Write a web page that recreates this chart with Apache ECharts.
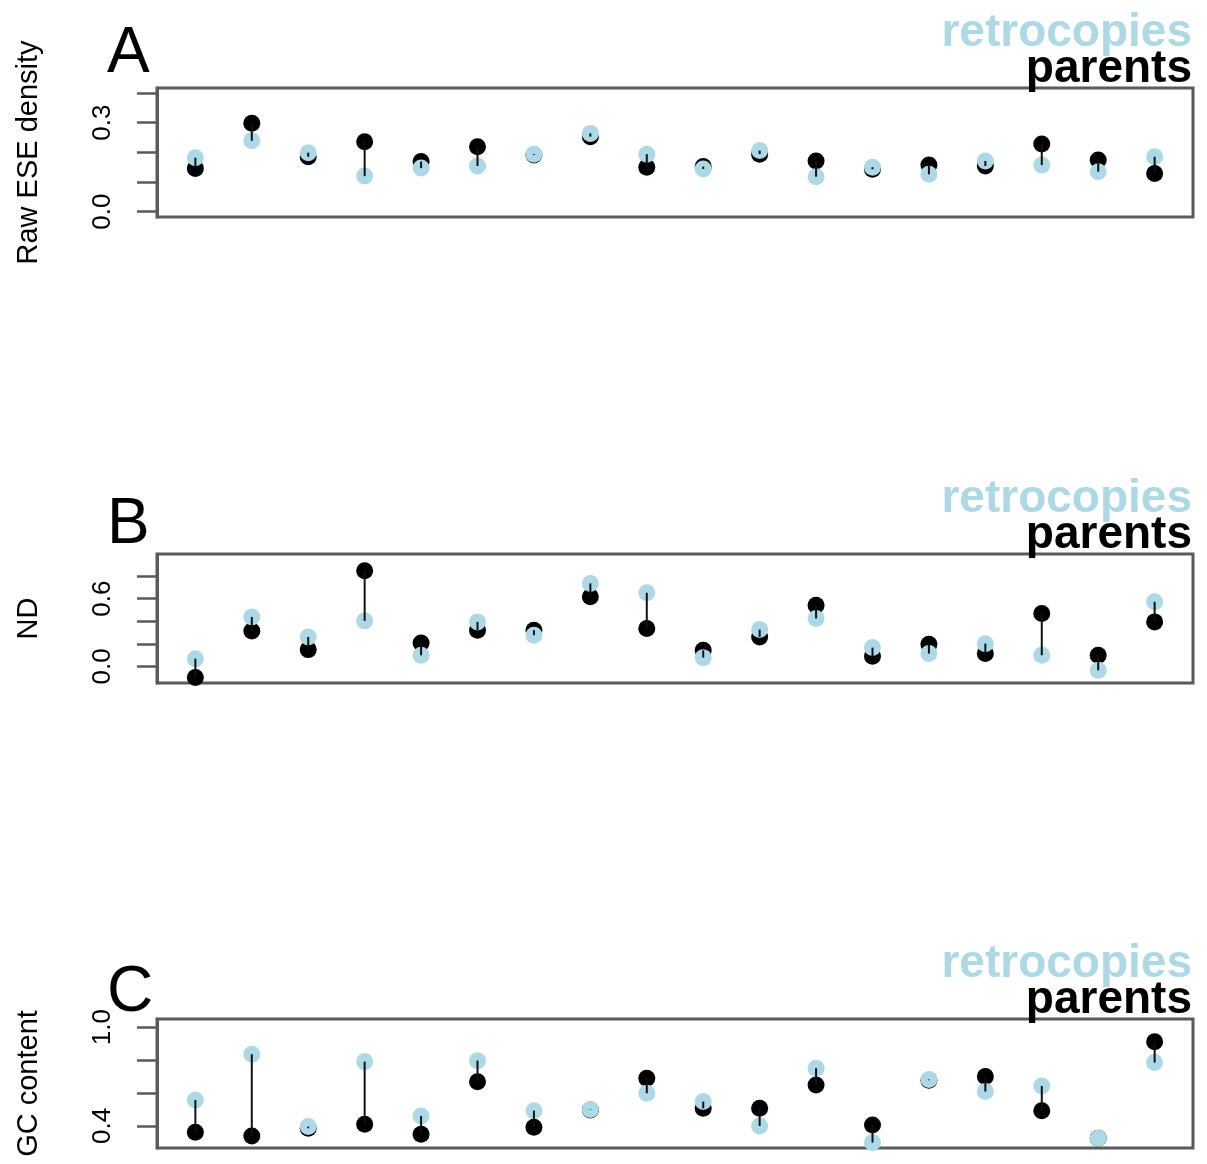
<!DOCTYPE html>
<html>
<head>
<meta charset="utf-8">
<script src="https://cdn.jsdelivr.net/npm/echarts@6/dist/echarts.min.js"></script>
<style>
  html, body { margin: 0; padding: 0; background: #fff; }
  #chart { width: 1207px; height: 1164px; }
</style>
</head>
<body>
<div id="chart"></div>
<script>
// 18 gene pairs, plotted left to right
const positions = [1, 2, 3, 4, 5, 6, 7, 8, 9, 10, 11, 12, 13, 14, 15, 16, 17, 18];

// A: raw ESE density
const eseRetro  = [0.182, 0.239, 0.199, 0.120, 0.147, 0.154, 0.194, 0.264, 0.194, 0.144, 0.206, 0.118, 0.150, 0.126, 0.171, 0.157, 0.135, 0.185];
const eseParent = [0.146, 0.298, 0.185, 0.236, 0.169, 0.219, 0.191, 0.253, 0.150, 0.152, 0.194, 0.171, 0.143, 0.157, 0.154, 0.228, 0.174, 0.129];

// B: ND
const ndRetro  = [0.068, 0.438, 0.260, 0.403, 0.098, 0.394, 0.276, 0.735, 0.652, 0.077, 0.326, 0.424, 0.166, 0.113, 0.201, 0.098, -0.036, 0.572];
const ndParent = [-0.100, 0.314, 0.148, 0.847, 0.207, 0.320, 0.320, 0.616, 0.335, 0.142, 0.260, 0.542, 0.089, 0.196, 0.113, 0.468, 0.098, 0.394];

// C: GC content
const gcRetro  = [0.558, 0.836, 0.396, 0.791, 0.461, 0.797, 0.493, 0.500, 0.599, 0.548, 0.400, 0.751, 0.299, 0.682, 0.609, 0.643, 0.325, 0.785];
const gcParent = [0.362, 0.339, 0.386, 0.410, 0.350, 0.669, 0.392, 0.497, 0.690, 0.507, 0.507, 0.649, 0.406, 0.678, 0.700, 0.493, 0.325, 0.912];

// axis ticks and the subset that gets labels
const eseTicks = [0, 0.1, 0.2, 0.3, 0.4];
const eseLabels = [0, 0.3];
const ndTicks = [0, 0.2, 0.4, 0.6, 0.8];
const ndLabels = [0, 0.6];
const gcTicks = [0.4, 0.6, 0.8, 1.0];
const gcLabels = [0.4, 1.0];

const panelLetters = ['A', 'B', 'C'];
const axisTitles = ['Raw ESE density', 'ND', 'GC content'];
const legendNames = ['retrocopies', 'parents'];

const FONT = "'Liberation Sans', Arial, Helvetica, sans-serif";
const RETRO_COLOR = '#ADD8E6';
const PARENT_COLOR = '#000000';
const FRAME = '#5a5a5a';

const panels = [
  { retro: eseRetro, parent: eseParent, ticks: eseTicks, labels: eseLabels, min: -0.0179, max: 0.417, top: 88, letterBase: 77 },
  { retro: ndRetro, parent: ndParent, ticks: ndTicks, labels: ndLabels, min: -0.148, max: 0.996, top: 554, letterBase: 548 },
  { retro: gcRetro, parent: gcParent, ticks: gcTicks, labels: gcLabels, min: 0.266, max: 1.050, top: 1019, letterBase: 1016 }
];

const grid = [], xAxis = [], yAxis = [], series = [], graphic = [];
const LEGEND_SIZE = 46;
const LETTER_SIZE = 64;

panels.forEach((p, i) => {
  grid.push({
    left: 157, right: 14, top: p.top, height: 129,
    show: true, borderColor: FRAME, borderWidth: 3, backgroundColor: 'transparent'
  });
  xAxis.push({
    gridIndex: i, type: 'value', min: 0.32, max: 18.68, show: false
  });
  yAxis.push({
    gridIndex: i, type: 'value', min: p.min, max: p.max,
    name: axisTitles[i], nameLocation: 'middle', nameRotate: 90, nameGap: 114,
    nameTextStyle: { fontFamily: FONT, fontSize: 29, color: '#000' },
    axisLine: { show: true, lineStyle: { color: FRAME, width: 3 } },
    axisTick: { show: true, length: 20, customValues: p.ticks, lineStyle: { color: FRAME, width: 2.5 } },
    axisLabel: {
      show: true, customValues: p.labels, rotate: 90, margin: 41,
      fontFamily: FONT, fontSize: 26, color: '#000',
      formatter: v => Number(v).toFixed(1)
    },
    splitLine: { show: false }
  });

  const parentPts = positions.map((x, k) => [x, p.parent[k]]);
  const retroPts = positions.map((x, k) => [x, p.retro[k]]);
  const segs = positions.map((x, k) => [x, p.parent[k], p.retro[k]]);

  series.push({
    type: 'scatter', xAxisIndex: i, yAxisIndex: i, data: parentPts,
    symbol: 'circle', symbolSize: 17, itemStyle: { color: PARENT_COLOR, opacity: 1 },
    z: 2, silent: true
  });
  series.push({
    type: 'scatter', xAxisIndex: i, yAxisIndex: i, data: retroPts,
    symbol: 'circle', symbolSize: 17, itemStyle: { color: RETRO_COLOR, opacity: 1 },
    z: 3, silent: true
  });
  // connector from each parent to its retrocopy
  series.push({
    type: 'custom', xAxisIndex: i, yAxisIndex: i, data: segs, z: 4, silent: true,
    renderItem: (params, api) => {
      const a = api.coord([api.value(0), api.value(1)]);
      const b = api.coord([api.value(0), api.value(2)]);
      return {
        type: 'line',
        shape: { x1: a[0], y1: a[1], x2: b[0], y2: b[1] },
        style: { stroke: '#111', lineWidth: 2 }
      };
    }
  });

  // panel letter
  const shift = p.top - 88;
  graphic.push({
    type: 'text', x: 107, y: p.letterBase - 0.35 * LETTER_SIZE,
    style: { text: panelLetters[i], font: `${LETTER_SIZE}px ${FONT}`, fill: '#000', textAlign: 'left', textVerticalAlign: 'middle' }
  });
  // legend words
  graphic.push({
    type: 'text', x: 1192, y: 49 + shift - 0.35 * LEGEND_SIZE,
    style: { text: legendNames[0], font: `bold ${LEGEND_SIZE}px ${FONT}`, fill: RETRO_COLOR, textAlign: 'right', textVerticalAlign: 'middle' }
  });
  graphic.push({
    type: 'text', x: 1192, y: 85 + shift - 0.35 * LEGEND_SIZE,
    style: { text: legendNames[1], font: `bold ${LEGEND_SIZE}px ${FONT}`, fill: PARENT_COLOR, textAlign: 'right', textVerticalAlign: 'middle' }
  });
});

const chart = echarts.init(document.getElementById('chart'), null, { renderer: 'canvas' });
chart.setOption({
  animation: false,
  backgroundColor: '#fff',
  grid, xAxis, yAxis, series, graphic
});
</script>
</body>
</html>
